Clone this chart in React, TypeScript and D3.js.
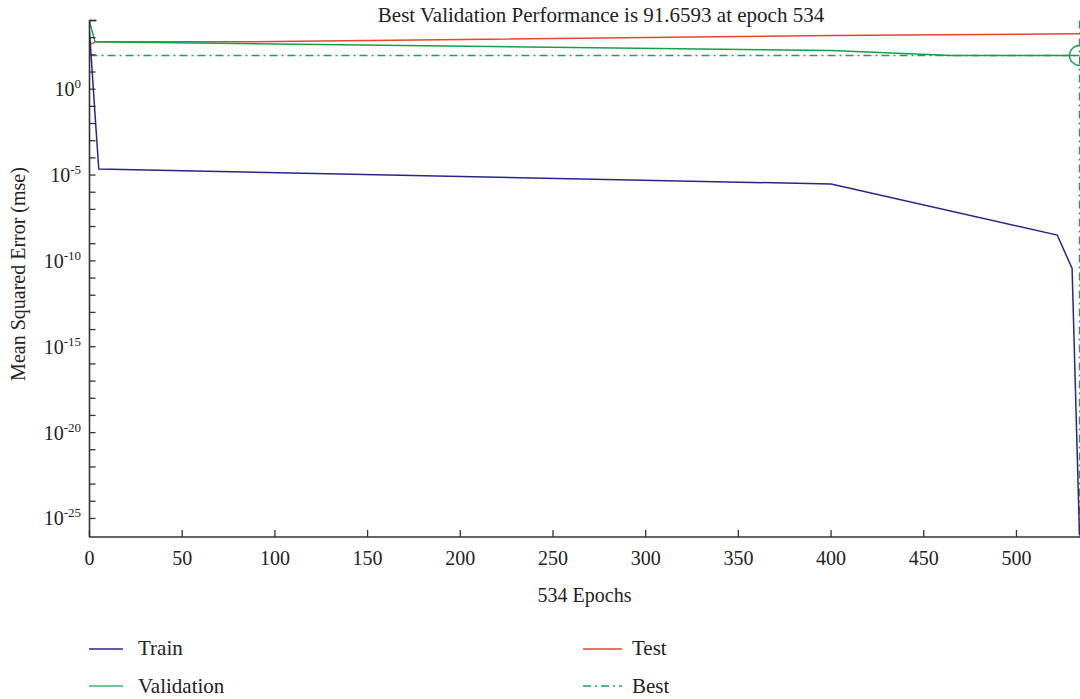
import React from "react";
import * as d3 from "d3";

const trainEpochs = [0, 3, 5, 400, 522, 530, 534];
const trainValues = [2290, 0.032, 2.25e-5, 3.0e-6, 3.2e-9, 3.6e-11, 1e-26];
const validationEpochs = [0, 3, 400, 465, 534];
const validationValues = [8700, 573, 178, 93, 91.6593];
const testEpochs = [0, 3, 100, 400, 534];
const testValues = [383, 573, 590, 1330, 1676];
const bestEpoch = 534;
const bestValue = 91.6593;
const xTicks = [0, 50, 100, 150, 200, 250, 300, 350, 400, 450, 500];
const yMinorExps = d3.range(-25, 5);
const yLabelExps = [0, -5, -10, -15, -20, -25];

const W = 1080;
const H = 699;
const FONT = "'Liberation Serif', 'Times New Roman', serif";
const AX = "#333333";
const TXT = "#222222";
const C_TRAIN = "#28268a";
const C_TEST = "#e8452f";
const C_VAL = "#13a049";
const C_VAL_LEG = "#3dbb6e";
const C_BEST = "#1aa35a";

export default function App() {
  const x = d3.scaleLinear().domain([0, 534]).range([89.5, 1079.5]);
  const y = d3.scaleLog().domain([Math.pow(10, -26.08), 1e4]).range([537, 20.5]);
  const line = d3
    .line<[number, number]>()
    .x((d) => x(d[0]))
    .y((d) => y(d[1]));
  const mk = (e: number[], v: number[]) => e.map((ep, i) => [ep, v[i]] as [number, number]);
  const x0 = x(0);
  const yb = y.range()[0];
  const yt = y.range()[1];
  const dash = "8,4,2,4";

  return (
    <div style={{ position: "absolute", left: 0, top: 0 }}>
      <svg width={W} height={H} style={{ display: "block", background: "#fff" }} fontFamily={FONT}>
        <defs>
          <clipPath id="plot">
            <rect x={x0} y={0} width={W - x0} height={yb + 1} />
          </clipPath>
        </defs>
        {/* title */}
        <text x={601} y={22} textAnchor="middle" fontSize={21} fill={TXT}>
          Best Validation Performance is 91.6593 at epoch 534
        </text>
        {/* lines */}
        <g clipPath="url(#plot)" fill="none">
          <path d={line([[0, bestValue], [534, bestValue]])!} stroke={C_BEST} strokeWidth={1.4} strokeDasharray={dash} />
          <line x1={x(bestEpoch)} x2={x(bestEpoch)} y1={yt} y2={yb} stroke={C_BEST} strokeWidth={1.4} strokeDasharray={dash} />
          <path d={line(mk(testEpochs, testValues))!} stroke={C_TEST} strokeWidth={1.5} />
          <path d={line(mk(validationEpochs, validationValues))!} stroke={C_VAL} strokeWidth={1.5} />
          <path d={line(mk(trainEpochs, trainValues))!} stroke={C_TRAIN} strokeWidth={1.5} />
          <circle cx={x(bestEpoch)} cy={y(bestValue)} r={10} stroke={C_BEST} strokeWidth={1.4} />
        </g>
        {/* axes */}
        <line x1={x0} x2={x0} y1={yt - 0.5} y2={yb} stroke={AX} strokeWidth={1.6} />
        <line x1={x0 - 0.5} x2={W} y1={yb} y2={yb} stroke={AX} strokeWidth={1.6} />
        <line x1={x0} x2={x0 + 7} y1={y(1e4)} y2={y(1e4)} stroke={AX} strokeWidth={1.6} />
        {yMinorExps.map((e) => (
          <line key={e} x1={x0} x2={x0 + 6} y1={y(Math.pow(10, e))} y2={y(Math.pow(10, e))} stroke={AX} strokeWidth={1.3} />
        ))}
        {yLabelExps.map((e) => (
          <text key={e} x={81} y={y(Math.pow(10, e)) + 7} textAnchor="end" fontSize={20} fill={TXT}>
            10
            <tspan fontSize={13} dy={-8}>
              {e}
            </tspan>
          </text>
        ))}
        {xTicks.map((t) => (
          <g key={t}>
            <line x1={x(t)} x2={x(t)} y1={yb} y2={yb - 7} stroke={AX} strokeWidth={1.3} />
            <text x={x(t)} y={565} textAnchor="middle" fontSize={20} fill={TXT}>
              {t}
            </text>
          </g>
        ))}
        <text x={584.5} y={602} textAnchor="middle" fontSize={20} fill={TXT}>
          534 Epochs
        </text>
        <text
          transform={`translate(25, 274) rotate(-90)`}
          textAnchor="middle"
          fontSize={20}
          fill={TXT}
        >
          Mean Squared Error (mse)
        </text>
        {/* legend */}
        <line x1={89} x2={123} y1={649} y2={649} stroke={C_TRAIN} strokeWidth={1.5} />
        <text x={138} y={655} fontSize={21} fill={TXT}>Train</text>
        <line x1={89} x2={123} y1={686} y2={686} stroke={C_VAL_LEG} strokeWidth={1.5} />
        <text x={138} y={693} fontSize={21} fill={TXT}>Validation</text>
        <line x1={583} x2={622} y1={649} y2={649} stroke={C_TEST} strokeWidth={1.5} />
        <text x={632} y={655} fontSize={21} fill={TXT}>Test</text>
        <line x1={583} x2={622} y1={686} y2={686} stroke={C_BEST} strokeWidth={1.5} strokeDasharray={dash} />
        <text x={632} y={693} fontSize={21} fill={TXT}>Best</text>
      </svg>
    </div>
  );
}
